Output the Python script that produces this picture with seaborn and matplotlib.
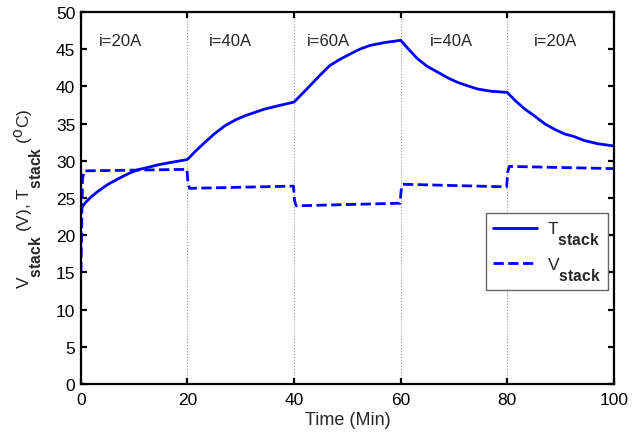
import numpy as np
import pandas as pd
import matplotlib
matplotlib.use("Agg")
import matplotlib.pyplot as plt
import seaborn as sns

try:
    import matplotlib._mathtext as _mt
    _mt.SHRINK_FACTOR = 0.9
    _mt.FontConstantsBase.sub1 = 1.3
except Exception:
    pass

# ---- data ----
t_time = [0, 1, 2, 3.2, 5, 6.9, 9, 10.7, 12.5, 14.4, 17, 19.8,
          20.1, 21.5, 23.3, 25, 27, 29, 30.8, 33, 34.5, 37, 40,
          41.5, 43, 45, 46.7, 48.5, 50.5, 52.3, 54.2, 57, 60,
          61.5, 63.2, 65, 67, 69, 70.7, 72.5, 74.5, 77, 80,
          81.5, 83.3, 85, 87.1, 89, 90.8, 92.4, 94.6, 97, 100]
t_stack = [23.6, 24.5, 25.2, 25.9, 26.8, 27.55, 28.3, 28.8, 29.1, 29.45, 29.8, 30.15,
           30.25, 31.3, 32.5, 33.6, 34.7, 35.5, 36.06, 36.6, 36.96, 37.4, 37.9,
           39.0, 40.1, 41.6, 42.8, 43.6, 44.35, 45.0, 45.5, 45.9, 46.2,
           45.0, 43.7, 42.7, 41.9, 41.1, 40.55, 40.1, 39.65, 39.35, 39.2,
           38.1, 36.96, 36.1, 34.95, 34.2, 33.6, 33.3, 32.7, 32.3, 32.0]

v_time = [0, 0.3, 0.6, 19.9, 20.1, 20.4, 39.9, 40.1, 40.4,
          59.9, 60.1, 60.4, 79.9, 80.1, 80.4, 100]
v_stack = [15.0, 27.5, 28.65, 28.85, 27.0, 26.3, 26.6, 24.6, 23.95,
           24.3, 26.0, 26.85, 26.5, 28.5, 29.25, 28.95]

region_labels = ["i=20A", "i=40A", "i=60A", "i=40A", "i=20A"]
region_x = [7.5, 28.0, 46.5, 69.5, 89.0]

# ---- style ----
sns.set_style("ticks", {"xtick.direction": "in", "ytick.direction": "in"})
plt.rcParams["font.family"] = ["Liberation Sans", "DejaVu Sans"]
plt.rcParams["mathtext.fontset"] = "custom"
plt.rcParams["mathtext.rm"] = "Liberation Sans"
plt.rcParams["mathtext.it"] = "Liberation Sans"
plt.rcParams["mathtext.bf"] = "Liberation Sans:bold"

fig = plt.figure(figsize=(6.42, 4.35), dpi=100)
ax = fig.add_axes([0.126, 0.115, 0.83, 0.855])

df_t = pd.DataFrame({"time": t_time, "value": t_stack})
df_v = pd.DataFrame({"time": v_time, "value": v_stack})

sns.lineplot(data=df_t, x="time", y="value", ax=ax, color="#0000ff", lw=2.0,
             estimator=None, sort=False, label=r"T$_{\mathbf{stack}}$")
sns.lineplot(data=df_v, x="time", y="value", ax=ax, color="#0000ff", lw=2.0,
             estimator=None, sort=False, linestyle="--",
             label=r"V$_{\mathbf{stack}}$")

ax.set_xlim(0, 100)
ax.set_ylim(0, 50)
ax.set_xticks(np.arange(0, 101, 20))
ax.set_yticks(np.arange(0, 51, 5))
ax.grid(axis="x", linestyle=":", color="0.6", lw=0.8)
ax.grid(axis="y", visible=False)

for s in ax.spines.values():
    s.set_visible(True)
    s.set_linewidth(1.6)
    s.set_color("black")
ax.tick_params(axis="both", which="both", direction="in", length=4, width=1.6,
               top=True, right=True, labelsize=12.5, colors="black")
ax.tick_params(axis="x", pad=6)
ax.tick_params(axis="y", pad=4)

for lab, xx in zip(region_labels, region_x):
    ax.text(xx, 46.2, lab, ha="center", va="center", fontsize=12)

ax.set_xlabel("Time (Min)", fontsize=13, labelpad=3)
ax.set_ylabel(r"V$_{\mathbf{stack}}$ (V), T$_{\mathbf{stack}}$ ($^{\mathrm{o}}$C)",
              fontsize=12.5, labelpad=8.5)

leg = ax.legend(loc="lower right", bbox_to_anchor=(0.989, 0.253), borderaxespad=0,
                fontsize=12.5, handlelength=2.5, fancybox=False, framealpha=1,
                edgecolor="0.4", borderpad=0.4, labelspacing=0.45, handletextpad=0.6)
leg.get_frame().set_linewidth(1.0)

fig.savefig("out.png", dpi=100)
